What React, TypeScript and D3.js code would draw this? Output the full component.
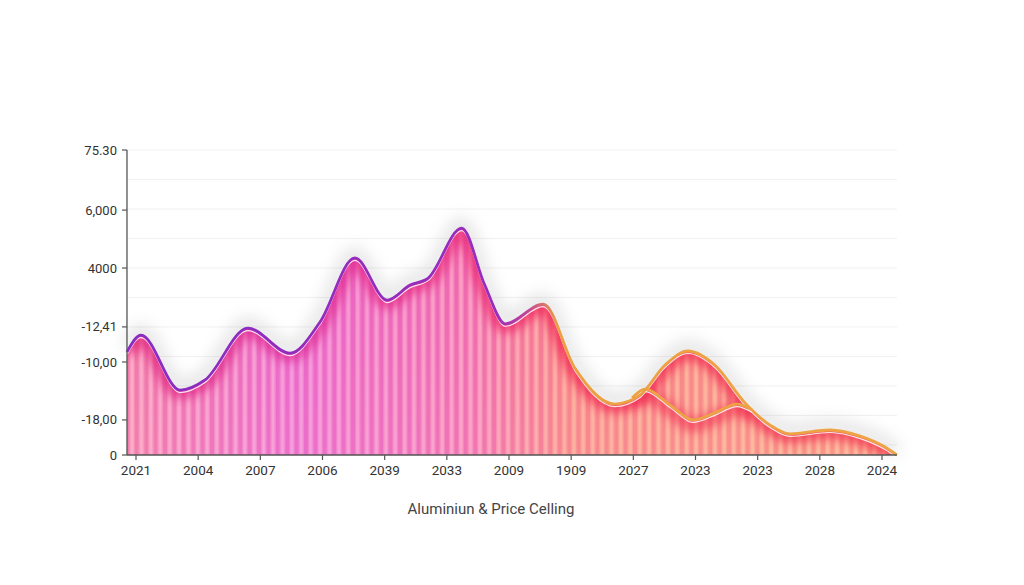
import React from 'react';
import * as d3 from 'd3';

const xCategories = ['2021', '2004', '2007', '2006', '2039', '2033', '2009', '1909', '2027', '2023', '2023', '2028', '2024'];
const yTickValues = [100, 80.3, 61.3, 42.0, 30.5, 11.5, 0];
const yTickLabels = ['75.30', '6,000', '4000', '-12,41', '-10,00', '-18,00', '0'];

// main (outer) curve: position along category index, value
const mainPos = [-0.145, 0.08, 0.71, 1.11, 1.8, 2.48, 2.96, 3.52, 4.04, 4.41, 4.7, 5.24, 5.61, 5.94, 6.55, 7.06, 7.7, 8.11, 8.51, 8.88, 9.31, 9.8, 10.2, 10.52, 11.16, 11.65, 12.05, 12.24];
const mainVal = [33.8, 39.3, 21.3, 24.6, 41.6, 33.4, 43.6, 64.6, 50.8, 55.7, 58.0, 74.4, 55.7, 43.0, 49.5, 28.5, 16.7, 19.7, 29.5, 34.1, 29.5, 17.0, 9.8, 6.9, 8.2, 6.2, 2.6, 0];

// inner (secondary) curve
const innerPos = [7.98, 8.19, 8.59, 8.96, 9.31, 9.67, 9.91];
const innerVal = [18.7, 21.6, 16.4, 11.5, 13.8, 16.7, 14.8];

const gridValues = d3.range(0, 11).map((i) => 100 - i * 9.67);

const W = 1024;
const H = 585;

export default function App() {
  const x = d3.scaleLinear().domain([0, 12]).range([136, 882]);
  const y = d3.scaleLinear().domain([0, 100]).range([455, 150]);
  const x0 = x(mainPos[0]);
  const x1 = x(mainPos[mainPos.length - 1]);
  const y0 = y(0);
  const yTop = y(100);

  const mainPts: [number, number][] = mainPos.map((p, i) => [p, mainVal[i]]);
  const innerPts: [number, number][] = innerPos.map((p, i) => [p, innerVal[i]]);

  const line = d3
    .line<[number, number]>()
    .x((d) => x(d[0]))
    .y((d) => y(d[1]))
    .curve(d3.curveMonotoneX);
  const area = d3
    .area<[number, number]>()
    .x((d) => x(d[0]))
    .y0(y0)
    .y1((d) => y(d[1]))
    .curve(d3.curveMonotoneX);

  const mainLine = line(mainPts) || '';
  const innerLine = line(innerPts) || '';
  const mainArea = area(mainPts) || '';

  const fillColor = d3
    .scaleLinear<string>()
    .domain([x0, 300, 470, 570, x1])
    .range(['#f06fa2', '#e95cc6', '#ee62aa', '#f7797f', '#f98a78']);
  const stripeColor = d3
    .scaleLinear<string>()
    .domain([x0, 300, 470, 570, x1])
    .range(['#ffacc8', '#f89cdc', '#ffa4c4', '#ffb29a', '#ffbe96']);
  const bandColor = d3
    .scaleLinear<string>()
    .domain([x0, 300, 470, 570, x1])
    .range(['#e2257a', '#de2d9a', '#ea2a78', '#f22550', '#f03550']);

  const stripes = d3.range(x0 + 3, x1, 9.4);
  const fillStops = [0, 0.22, 0.45, 0.57, 1];
  const bandStops = [0, 0.22, 0.45, 0.57, 1];

  const lineStops: [number, string][] = [
    [0, '#8a2cc2'],
    [0.48, '#9a2cbc'],
    [0.52, '#c0459a'],
    [0.56, '#eca042'],
    [1, '#eea445'],
  ];

  return (
    <svg width={W} height={H} style={{ position: 'absolute', left: 0, top: 0, background: '#fff' }} fontFamily="Roboto, 'Open Sans', sans-serif">
      <defs>
        <linearGradient id="fillGrad" gradientUnits="userSpaceOnUse" x1={x0} x2={x1} y1={0} y2={0}>
          {fillStops.map((s, i) => (
            <stop key={i} offset={s} stopColor={fillColor(x0 + s * (x1 - x0))} />
          ))}
        </linearGradient>
        <linearGradient id="bandGrad" gradientUnits="userSpaceOnUse" x1={x0} x2={x1} y1={0} y2={0}>
          {bandStops.map((s, i) => (
            <stop key={i} offset={s} stopColor={bandColor(x0 + s * (x1 - x0))} />
          ))}
        </linearGradient>
        <linearGradient id="lineGrad" gradientUnits="userSpaceOnUse" x1={x0} x2={x1} y1={0} y2={0}>
          {lineStops.map(([o, c], i) => (
            <stop key={i} offset={o} stopColor={c} />
          ))}
        </linearGradient>
        <linearGradient id="fadeGrad" x1="0" x2="0" y1="0" y2="1">
          <stop offset="0" stopColor="#fff" stopOpacity={0} />
          <stop offset="1" stopColor="#fff" stopOpacity={0.12} />
        </linearGradient>
        <clipPath id="areaClip">
          <path d={mainArea} />
        </clipPath>
        <filter id="blur5" x="-10%" y="-50%" width="120%" height="200%">
          <feGaussianBlur stdDeviation={5} />
        </filter>
        <filter id="blur8" x="-10%" y="-50%" width="120%" height="200%">
          <feGaussianBlur stdDeviation={8} />
        </filter>
        <filter id="blur1" x="-10%" y="-50%" width="120%" height="200%">
          <feGaussianBlur stdDeviation={1.1} />
        </filter>
      </defs>

      {/* grid */}
      {gridValues.map((v, i) => (
        <line key={i} x1={x0} x2={x1} y1={y(v)} y2={y(v)} stroke="#f1f1f1" strokeWidth={1} />
      ))}

      {/* soft grey shadow above curve */}
      <path d={mainLine} fill="none" stroke="#000" strokeOpacity={0.12} strokeWidth={12} filter="url(#blur8)" transform="translate(0,-4)" />

      {/* area */}
      <path d={mainArea} fill="url(#fillGrad)" />
      <g clipPath="url(#areaClip)">
        {stripes.map((sx, i) => (
          <rect key={i} x={sx} y={yTop - 100} width={4.2} height={y0 - yTop + 100} fill={stripeColor(sx)} opacity={0.9} filter="url(#blur1)" />
        ))}
        <rect x={x0} y={yTop} width={x1 - x0} height={y0 - yTop} fill="url(#fadeGrad)" />
        <path d={mainLine} fill="none" stroke="url(#bandGrad)" strokeWidth={18} opacity={0.75} filter="url(#blur5)" />
        <path d={innerLine} fill="none" stroke="url(#bandGrad)" strokeWidth={14} opacity={0.6} filter="url(#blur5)" transform="translate(0,5)" />
      </g>

      {/* lines */}
      <path d={mainLine} fill="none" stroke="#fff" strokeOpacity={0.85} strokeWidth={1.2} transform="translate(0,2.5)" />
      <path d={innerLine} fill="none" stroke="#fff" strokeOpacity={0.85} strokeWidth={1.2} transform="translate(0,2.5)" />
      <path d={mainLine} fill="none" stroke="url(#lineGrad)" strokeWidth={2.8} />
      <path d={innerLine} fill="none" stroke="url(#lineGrad)" strokeWidth={2.8} />

      {/* y axis */}
      <line x1={x0} x2={x0} y1={yTop} y2={y0} stroke="#555" strokeWidth={1.3} />
      {yTickValues.map((v, i) => (
        <g key={i} transform={`translate(${x0},${y(v)})`}>
          <line x1={-5} x2={0} stroke="#555" strokeWidth={1.2} />
          <text x={-10} dy="0.35em" textAnchor="end" fontSize={13} fill="#333">
            {yTickLabels[i]}
          </text>
        </g>
      ))}

      {/* x axis */}
      <line x1={x0} x2={x1} y1={y0} y2={y0} stroke="#555" strokeWidth={1.3} />
      {xCategories.map((c, i) => (
        <g key={i} transform={`translate(${x(i)},${y0})`}>
          <line y1={0} y2={5} stroke="#555" strokeWidth={1.2} />
          <text y={20} textAnchor="middle" fontSize={13.5} fill="#333">
            {c}
          </text>
        </g>
      ))}

      <text x={491} y={514} textAnchor="middle" fontSize={15} fill="#444">
        Aluminiun &amp; Price Celling
      </text>
    </svg>
  );
}
